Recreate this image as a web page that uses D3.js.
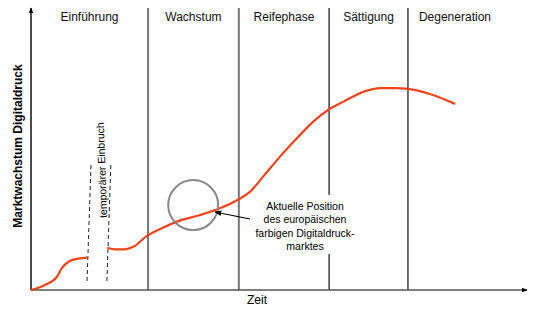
<!DOCTYPE html>
<html>
<head>
<meta charset="utf-8">
<script src="https://cdn.jsdelivr.net/npm/d3@7"></script>
<style>
body { margin: 0; background: #fff; }
svg { display: block; font-family: "Liberation Sans", Arial, sans-serif; }
</style>
</head>
<body>
<svg id="chart"></svg>
<script>
const width = 556;
const height = 311;

// phases of the life cycle, boundaries on the time axis (0..100)
const phaseNames = ["Einführung", "Wachstum", "Reifephase", "Sättigung", "Degeneration"];
const phaseBounds = [0, 23.6, 41.9, 60.1, 76.0, 100];
const boundColors = ["#777", "#777", "#222", "#222"];

// curve before the temporary drop
const seg1T = [0, 2.8, 5.2, 6.2, 6.9, 8.2, 11.3];
const seg1V = [0, 1.8, 4.6, 7.7, 9.1, 10.6, 11.5];
// curve after the drop
const seg2T = [15.4, 16.9, 18.9, 20.6, 23.3, 26.7, 30.0, 34.1, 38.1, 41.9, 44.2, 46.8, 50.2, 53.6, 56.9, 60.1, 63.0, 67.7, 70.4, 73.4, 76.0, 80.4, 85.5];
const seg2V = [15.0, 14.4, 14.4, 15.3, 19.1, 22.2, 24.6, 26.6, 29.0, 32.2, 34.9, 40.2, 47.3, 53.8, 59.7, 64.1, 66.8, 70.7, 71.6, 71.6, 71.3, 69.5, 66.0];

// dashed lines marking the drop [tTop, tBottom]
const dropLines = [[12.1, 11.3], [16.1, 15.3]];
const dropTop = 44.3, dropBottom = 3.2;

const markerT = 32.7, markerV = 30.1;
const noteLines = ["Aktuelle Position", "des europäischen", "farbigen Digitaldruck-", "marktes"];

const x = d3.scaleLinear().domain([0, 100]).range([31, 527]);
const y = d3.scaleLinear().domain([0, 100]).range([290, 8]);

const svg = d3.select("#chart").attr("width", width).attr("height", height);

const defs = svg.append("defs");
defs.append("marker").attr("id", "ah").attr("viewBox", "0 0 10 10")
    .attr("refX", 9).attr("refY", 5).attr("markerWidth", 6).attr("markerHeight", 6)
    .attr("orient", "auto").attr("markerUnits", "userSpaceOnUse")
    .append("path").attr("d", "M0,1L10,5L0,9Z").attr("fill", "#000");
defs.append("marker").attr("id", "ah2").attr("viewBox", "0 0 10 10")
    .attr("refX", 9).attr("refY", 5).attr("markerWidth", 7).attr("markerHeight", 7)
    .attr("orient", "auto").attr("markerUnits", "userSpaceOnUse")
    .append("path").attr("d", "M0,1L10,5L0,9Z").attr("fill", "#000");

// phase boundaries
svg.selectAll(".bound")
    .data(phaseBounds.slice(1, -1))
    .enter().append("line")
    .attr("x1", d => x(d)).attr("x2", d => x(d))
    .attr("y1", y(100)).attr("y2", y(0))
    .attr("stroke", (d, i) => boundColors[i])
    .attr("stroke-width", (d, i) => i < 2 ? 2 : 1.3);

// phase labels
svg.selectAll(".phase")
    .data(phaseNames)
    .enter().append("text")
    .attr("x", (d, i) => i < 4 ? (x(phaseBounds[i]) + x(phaseBounds[i + 1])) / 2 : x(phaseBounds[i]) + 47)
    .attr("y", 21)
    .attr("text-anchor", "middle")
    .attr("font-size", 12)
    .attr("fill", "#111")
    .text(d => d);

// axes
svg.append("line")
    .attr("x1", x(0)).attr("x2", x(100)).attr("y1", y(0)).attr("y2", y(0))
    .attr("stroke", "#555").attr("stroke-width", 1.5).attr("marker-end", "url(#ah)");
svg.append("line")
    .attr("x1", x(0)).attr("x2", x(0)).attr("y1", y(0)).attr("y2", y(100))
    .attr("stroke", "#111").attr("stroke-width", 1.5).attr("marker-end", "url(#ah)");

svg.append("text")
    .attr("x", 257).attr("y", 304)
    .attr("text-anchor", "middle").attr("font-size", 12)
    .text("Zeit");

svg.append("text")
    .attr("transform", "translate(22," + 146 + ") rotate(-90)")
    .attr("text-anchor", "middle").attr("font-size", 12).attr("font-weight", "bold")
    .text("Marktwachstum Digitaldruck");

// dashed drop markers
svg.selectAll(".drop")
    .data(dropLines)
    .enter().append("line")
    .attr("x1", d => x(d[0])).attr("y1", y(dropTop))
    .attr("x2", d => x(d[1])).attr("y2", y(dropBottom))
    .attr("stroke", "#222").attr("stroke-width", 1)
    .attr("stroke-dasharray", "4,3");

svg.append("text")
    .attr("transform", "translate(" + (x(14.2) + 4) + "," + 170 + ") rotate(-92)")
    .attr("text-anchor", "middle").attr("font-size", 10.5)
    .text("temporärer Einbruch");

// curve
const line = d3.line().x(d => x(d[0])).y(d => y(d[1])).curve(d3.curveMonotoneX);
[[seg1T, seg1V], [seg2T, seg2V]].forEach(s => {
    svg.append("path")
        .datum(s[0].map((t, i) => [t, s[1][i]]))
        .attr("d", line)
        .attr("fill", "none")
        .attr("stroke", "#f0441a")
        .attr("stroke-width", 2.2);
});

// marker circle
svg.append("circle")
    .attr("cx", x(markerT)).attr("cy", y(markerV)).attr("r", 25)
    .attr("fill", "none").attr("stroke", "#888").attr("stroke-width", 2);

// note box and text
const noteX = 305, noteY = 206;
svg.append("rect")
    .attr("x", 252).attr("y", 195).attr("width", 108).attr("height", 59)
    .attr("fill", "#fff");
svg.selectAll(".note")
    .data(noteLines)
    .enter().append("text")
    .attr("x", noteX).attr("y", (d, i) => noteY + 4 + i * 13.3)
    .attr("text-anchor", "middle").attr("font-size", 10.5)
    .text(d => d);

svg.append("line")
    .attr("x1", 250).attr("y1", 219).attr("x2", 215).attr("y2", 212)
    .attr("stroke", "#000").attr("stroke-width", 1.2)
    .attr("marker-end", "url(#ah2)");
</script>
</body>
</html>
